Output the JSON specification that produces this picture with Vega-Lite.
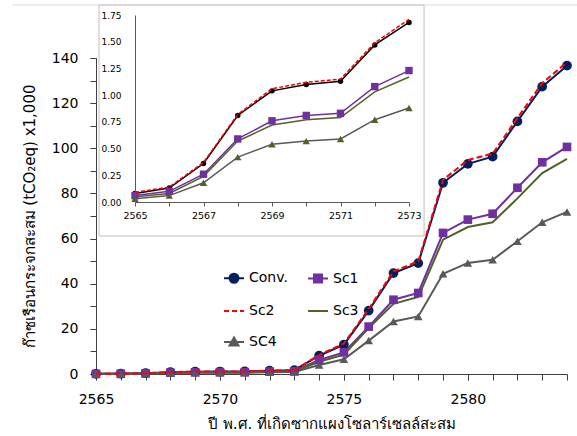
{
  "$schema": "https://vega.github.io/schema/vega-lite/v6.json",
  "autosize": "none",
  "width": 471,
  "height": 316,
  "padding": {"left": 96, "top": 58, "right": 10, "bottom": 62},
  "background": "white",
  "config": {
    "view": {"stroke": null},
    "font": "DejaVu Sans",
    "axis": {"grid": false, "labelColor": "black", "titleColor": "black", "domainColor": "#404040", "tickColor": "#404040", "titleFontWeight": "normal"}
  },
  "datasets": {
    "d": [
      {"year": 2565, "series": "Conv.", "v": 0.08}, {"year": 2566, "series": "Conv.", "v": 0.13}, {"year": 2567, "series": "Conv.", "v": 0.36}, {"year": 2568, "series": "Conv.", "v": 0.81}, {"year": 2569, "series": "Conv.", "v": 1.04}, {"year": 2570, "series": "Conv.", "v": 1.10}, {"year": 2571, "series": "Conv.", "v": 1.13}, {"year": 2572, "series": "Conv.", "v": 1.47}, {"year": 2573, "series": "Conv.", "v": 1.68}, {"year": 2574, "series": "Conv.", "v": 8.1}, {"year": 2575, "series": "Conv.", "v": 13.0}, {"year": 2576, "series": "Conv.", "v": 28.1}, {"year": 2577, "series": "Conv.", "v": 44.7}, {"year": 2578, "series": "Conv.", "v": 49.1}, {"year": 2579, "series": "Conv.", "v": 84.7}, {"year": 2580, "series": "Conv.", "v": 93.1}, {"year": 2581, "series": "Conv.", "v": 96.3}, {"year": 2582, "series": "Conv.", "v": 111.9}, {"year": 2583, "series": "Conv.", "v": 127.3}, {"year": 2584, "series": "Conv.", "v": 136.6},
      {"year": 2565, "series": "Sc1", "v": 0.06}, {"year": 2566, "series": "Sc1", "v": 0.10}, {"year": 2567, "series": "Sc1", "v": 0.26}, {"year": 2568, "series": "Sc1", "v": 0.59}, {"year": 2569, "series": "Sc1", "v": 0.76}, {"year": 2570, "series": "Sc1", "v": 0.81}, {"year": 2571, "series": "Sc1", "v": 0.83}, {"year": 2572, "series": "Sc1", "v": 1.08}, {"year": 2573, "series": "Sc1", "v": 1.23}, {"year": 2574, "series": "Sc1", "v": 6.2}, {"year": 2575, "series": "Sc1", "v": 9.6}, {"year": 2576, "series": "Sc1", "v": 21.0}, {"year": 2577, "series": "Sc1", "v": 32.9}, {"year": 2578, "series": "Sc1", "v": 35.9}, {"year": 2579, "series": "Sc1", "v": 62.5}, {"year": 2580, "series": "Sc1", "v": 68.4}, {"year": 2581, "series": "Sc1", "v": 71.0}, {"year": 2582, "series": "Sc1", "v": 82.5}, {"year": 2583, "series": "Sc1", "v": 93.8}, {"year": 2584, "series": "Sc1", "v": 100.6},
      {"year": 2565, "series": "Sc2", "v": 0.09}, {"year": 2566, "series": "Sc2", "v": 0.14}, {"year": 2567, "series": "Sc2", "v": 0.37}, {"year": 2568, "series": "Sc2", "v": 0.82}, {"year": 2569, "series": "Sc2", "v": 1.06}, {"year": 2570, "series": "Sc2", "v": 1.12}, {"year": 2571, "series": "Sc2", "v": 1.15}, {"year": 2572, "series": "Sc2", "v": 1.49}, {"year": 2573, "series": "Sc2", "v": 1.71}, {"year": 2574, "series": "Sc2", "v": 8.4}, {"year": 2575, "series": "Sc2", "v": 13.5}, {"year": 2576, "series": "Sc2", "v": 28.8}, {"year": 2577, "series": "Sc2", "v": 45.5}, {"year": 2578, "series": "Sc2", "v": 49.9}, {"year": 2579, "series": "Sc2", "v": 86.0}, {"year": 2580, "series": "Sc2", "v": 94.8}, {"year": 2581, "series": "Sc2", "v": 97.6}, {"year": 2582, "series": "Sc2", "v": 113.4}, {"year": 2583, "series": "Sc2", "v": 128.9}, {"year": 2584, "series": "Sc2", "v": 138.1},
      {"year": 2565, "series": "Sc3", "v": 0.05}, {"year": 2566, "series": "Sc3", "v": 0.08}, {"year": 2567, "series": "Sc3", "v": 0.24}, {"year": 2568, "series": "Sc3", "v": 0.57}, {"year": 2569, "series": "Sc3", "v": 0.72}, {"year": 2570, "series": "Sc3", "v": 0.77}, {"year": 2571, "series": "Sc3", "v": 0.79}, {"year": 2572, "series": "Sc3", "v": 1.03}, {"year": 2573, "series": "Sc3", "v": 1.17}, {"year": 2574, "series": "Sc3", "v": 5.4}, {"year": 2575, "series": "Sc3", "v": 8.6}, {"year": 2576, "series": "Sc3", "v": 20.4}, {"year": 2577, "series": "Sc3", "v": 31.1}, {"year": 2578, "series": "Sc3", "v": 34.1}, {"year": 2579, "series": "Sc3", "v": 59.5}, {"year": 2580, "series": "Sc3", "v": 65.1}, {"year": 2581, "series": "Sc3", "v": 67.2}, {"year": 2582, "series": "Sc3", "v": 77.8}, {"year": 2583, "series": "Sc3", "v": 89.0}, {"year": 2584, "series": "Sc3", "v": 95.3},
      {"year": 2565, "series": "SC4", "v": 0.03}, {"year": 2566, "series": "SC4", "v": 0.06}, {"year": 2567, "series": "SC4", "v": 0.18}, {"year": 2568, "series": "SC4", "v": 0.42}, {"year": 2569, "series": "SC4", "v": 0.54}, {"year": 2570, "series": "SC4", "v": 0.57}, {"year": 2571, "series": "SC4", "v": 0.59}, {"year": 2572, "series": "SC4", "v": 0.77}, {"year": 2573, "series": "SC4", "v": 0.88}, {"year": 2574, "series": "SC4", "v": 4.0}, {"year": 2575, "series": "SC4", "v": 6.5}, {"year": 2576, "series": "SC4", "v": 14.8}, {"year": 2577, "series": "SC4", "v": 23.3}, {"year": 2578, "series": "SC4", "v": 25.5}, {"year": 2579, "series": "SC4", "v": 44.4}, {"year": 2580, "series": "SC4", "v": 49.2}, {"year": 2581, "series": "SC4", "v": 50.6}, {"year": 2582, "series": "SC4", "v": 58.8}, {"year": 2583, "series": "SC4", "v": 67.2}, {"year": 2584, "series": "SC4", "v": 71.8}
    ]
  },
  "data": {"name": "d"},
  "layer": [
    {
      "layer": [
        {
          "transform": [{"filter": "datum.series !== 'Sc2'"}],
          "mark": {"type": "line", "strokeWidth": 2},
          "encoding": {
            "x": {"field": "year", "type": "quantitative", "scale": {"domain": [2565, 2584], "nice": false, "zero": false},
              "axis": {"orient": "bottom", "values": [2565, 2570, 2575, 2580], "format": "d", "tickSize": 6, "labelPadding": 12, "labelFontSize": 14, "labelFlush": false, "title": "ปี พ.ศ. ที่เกิดซากแผงโซลาร์เซลล์สะสม", "titleFontSize": 15, "titlePadding": 10}},
            "y": {"field": "v", "type": "quantitative", "scale": {"domain": [0, 140], "nice": false},
              "axis": {"orient": "left", "values": [0, 20, 40, 60, 80, 100, 120, 140], "tickSize": 6, "labelPadding": 12, "labelFontSize": 14, "title": "ก๊าซเรือนกระจกสะสม (tCO₂eq) x1,000", "titleFontSize": 15, "titlePadding": 14}},
            "color": {"field": "series", "type": "nominal",
              "scale": {"domain": ["Conv.", "Sc1", "Sc2", "Sc3", "SC4"], "range": ["#002060", "#7030A0", "#FF0000", "#4F6228", "#595959"]},
              "legend": {"orient": "none", "legendX": 127, "legendY": 209, "direction": "horizontal", "columns": 2, "columnPadding": 16, "rowPadding": 13, "symbolSize": 400, "labelFontSize": 14, "labelColor": "black", "title": null, "padding": 0, "labelOffset": 4,
                "encode": {"symbols": {"update": {
                  "shape": {"signal": "datum.value === 'Conv.' ? 'M-1,0H1M-0.45,0A0.45,0.45,0,1,0,0.45,0A0.45,0.45,0,1,0,-0.45,0Z' : datum.value === 'Sc1' ? 'M-1,0H1M-0.4,-0.4H0.4V0.4H-0.4Z' : datum.value === 'Sc2' ? 'M-1,0H-0.5M-0.2,0H0.3M0.6,0H1' : datum.value === 'Sc3' ? 'M-1,0H1' : 'M-1,0H1M0,-0.45L0.45,0.35H-0.45Z'"},
                  "stroke": {"signal": "datum.value === 'Conv.' ? '#002060' : datum.value === 'Sc1' ? '#7030A0' : datum.value === 'Sc2' ? '#FF0000' : datum.value === 'Sc3' ? '#4F6228' : '#595959'"},
                  "fill": {"signal": "datum.value === 'Conv.' ? '#002060' : datum.value === 'Sc1' ? '#7030A0' : datum.value === 'Sc2' ? '#FF0000' : datum.value === 'Sc3' ? '#4F6228' : '#595959'"},
                  "strokeWidth": {"value": 2},
                  "opacity": {"value": 1}
                }}}}}
          }
        },
        {
          "transform": [{"filter": "datum.series === 'Conv.' || datum.series === 'Sc1' || datum.series === 'SC4'"}],
          "mark": {"type": "point", "filled": true, "opacity": 1, "strokeWidth": 0},
          "encoding": {
            "x": {"field": "year", "type": "quantitative"},
            "y": {"field": "v", "type": "quantitative"},
            "color": {"field": "series", "type": "nominal"},
            "shape": {"condition": [{"test": "datum.series === 'Conv.'", "value": "circle"}, {"test": "datum.series === 'Sc1'", "value": "square"}], "value": "triangle-up"},
            "size": {"condition": {"test": "datum.series === 'Conv.'", "value": 95}, "value": 75}
          }
        },
        {
          "transform": [{"filter": "datum.series === 'Sc2'"}],
          "mark": {"type": "line", "strokeWidth": 2, "strokeDash": [6, 3]},
          "encoding": {
            "x": {"field": "year", "type": "quantitative"},
            "y": {"field": "v", "type": "quantitative"},
            "color": {"field": "series", "type": "nominal"}
          }
        }
      ]
    },
    {
      "data": {"values": [{"border": "top"}]},
      "mark": {"type": "rule", "color": "#D9D9D9", "strokeWidth": 1},
      "encoding": {
        "x": {"datum": 2561.6, "type": "quantitative", "scale": {"domain": [2565, 2584], "nice": false, "zero": false},
          "axis": {"orient": "bottom", "values": [2565,2566,2567,2568,2569,2570,2571,2572,2573,2574,2575,2576,2577,2578,2579,2580,2581,2582,2583,2584], "labels": false, "domain": false, "tickSize": 6, "title": null}},
        "x2": {"datum": 2584.4},
        "y": {"datum": 163.5, "type": "quantitative", "scale": {"domain": [0, 140], "nice": false},
          "axis": {"orient": "left", "values": [0,10,20,30,40,50,60,70,80,90,100,110,120,130,140], "labels": false, "domain": false, "tickSize": 6, "title": null}}
      }
    },
    {
      "layer": [
        {
          "data": {"values": [{"frame": "inset"}]},
          "mark": {"type": "rect", "fill": "white", "stroke": "#BFBFBF", "strokeWidth": 1},
          "encoding": {
            "x": {"datum": 2563.95, "type": "quantitative"},
            "x2": {"datum": 2573.44},
            "y": {"datum": 1.843, "type": "quantitative"},
            "y2": {"datum": -0.318}
          }
        },
        {
          "transform": [{"filter": "datum.year <= 2573 && datum.series !== 'Sc2'"}],
          "mark": {"type": "line", "strokeWidth": 1.5},
          "encoding": {
            "x": {"field": "year", "type": "quantitative", "scale": {"domain": [2565, 2573], "range": [39, 313], "nice": false, "zero": false},
              "axis": {"orient": "bottom", "offset": -172, "zindex": 1, "values": [2565,2566,2567,2568,2569,2570,2571,2572,2573], "format": "d", "labelExpr": "(datum.value - 2565) % 2 === 0 ? datum.label : ''", "tickSize": 4, "labelPadding": 4, "labelFontSize": 9.5, "labelFlush": false, "title": null, "domainColor": "#595959", "tickColor": "#595959"}},
            "y": {"field": "v", "type": "quantitative", "scale": {"domain": [0, 1.75], "range": [144, -43], "nice": false},
              "axis": {"orient": "left", "offset": -39, "zindex": 1, "values": [0, 0.25, 0.5, 0.75, 1, 1.25, 1.5, 1.75], "format": ".2f", "ticks": false, "labelPadding": 14, "labelFontSize": 9, "title": null, "domainColor": "#595959"}},
            "stroke": {"field": "series", "type": "nominal", "scale": {"domain": ["Conv.", "Sc1", "Sc2", "Sc3", "SC4"], "range": ["#000000", "#7030A0", "#FF0000", "#4F6228", "#595959"]}, "legend": null}
          }
        },
        {
          "transform": [{"filter": "datum.year <= 2573 && (datum.series === 'Conv.' || datum.series === 'Sc1' || datum.series === 'SC4')"}],
          "mark": {"type": "point", "filled": true, "opacity": 1, "strokeWidth": 0},
          "encoding": {
            "x": {"field": "year", "type": "quantitative"},
            "y": {"field": "v", "type": "quantitative"},
            "fill": {"field": "series", "type": "nominal", "scale": {"domain": ["Conv.", "Sc1", "Sc2", "Sc3", "SC4"], "range": ["#000000", "#7030A0", "#FF0000", "#4F6228", "#4F6228"]}, "legend": null},
            "shape": {"condition": [{"test": "datum.series === 'Conv.'", "value": "circle"}, {"test": "datum.series === 'Sc1'", "value": "square"}], "value": "triangle-up"},
            "size": {"condition": {"test": "datum.series === 'Conv.'", "value": 30}, "value": 55}
          }
        },
        {
          "transform": [{"filter": "datum.year <= 2573 && datum.series === 'Sc2'"}],
          "mark": {"type": "line", "strokeWidth": 1.5, "strokeDash": [4, 2], "color": "#FF0000"},
          "encoding": {
            "x": {"field": "year", "type": "quantitative"},
            "y": {"field": "v", "type": "quantitative"}
          }
        }
      ]
    }
  ],
  "resolve": {"scale": {"x": "independent", "y": "independent"}, "axis": {"x": "independent", "y": "independent"}}
}
